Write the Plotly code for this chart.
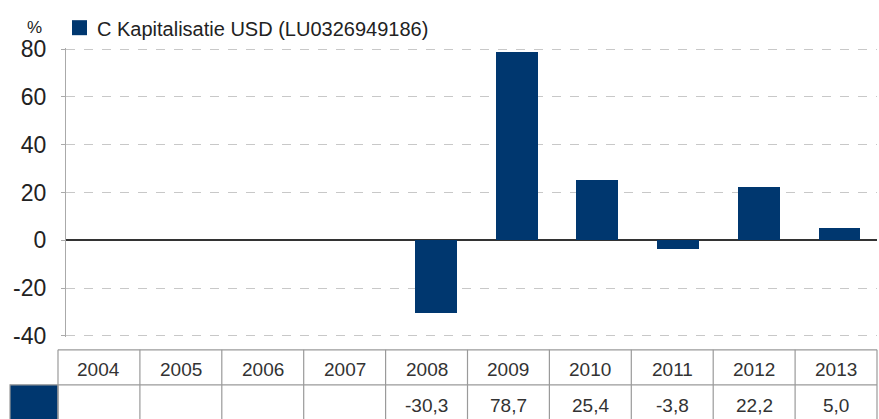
import plotly.graph_objects as go

years = ["2004", "2005", "2006", "2007", "2008", "2009", "2010", "2011", "2012", "2013"]
returns = [None, None, None, None, -30.3, 78.7, 25.4, -3.8, 22.2, 5.0]
series_name = "C Kapitalisatie USD (LU0326949186)"
y_ticks = [-40, -20, 0, 20, 40, 60, 80]
y_tick_text = ["-40", "-20", "0", "20", "40", "60", "80"]
unit_label = "%"

W, H = 879, 419
L, R = 66, 877          # plot area pixel extents
Y0, Y1 = -40.5, 80.5
PPU = (336 - 49.5) / 120.0
T = 49.5 - (Y1 - 80) * PPU
B = 336 + (-40 - Y0) * PPU
BAR_COLOR = "#00376f"
FONT = "Liberation Sans"

def px(x):
    return (x - L) / (R - L)

def py(y):
    return (B - y) / (B - T)

fig = go.Figure()
fig.add_trace(go.Bar(
    x=list(range(len(years))), y=returns, name=series_name,
    marker=dict(color=BAR_COLOR, line=dict(width=0)),
    width=0.52, showlegend=False, hoverinfo="skip",
))

shapes = []
annotations = []

# legend
shapes.append(dict(type="rect", xref="paper", yref="paper",
                   x0=px(72), x1=px(87), y0=py(35.5), y1=py(20.5),
                   fillcolor=BAR_COLOR, line=dict(width=0)))
annotations.append(dict(xref="paper", yref="paper", x=px(95), y=py(29),
                        text=series_name, showarrow=False, xanchor="left", yanchor="middle",
                        font=dict(family=FONT, size=20, color="#222")))
annotations.append(dict(xref="paper", yref="paper", x=px(34), y=py(28),
                        text=unit_label, showarrow=False, xanchor="center", yanchor="middle",
                        font=dict(family=FONT, size=17, color="#222")))

# table
tl, tr = 58, 877
top, mid, bot = 350, 385, 421
ncol = len(years)
cw = (tr - tl) / ncol
border = dict(color="#9a9a9a", width=1.2)
# blue label cell
shapes.append(dict(type="rect", xref="paper", yref="paper",
                   x0=px(10), x1=px(tl), y0=py(bot), y1=py(mid),
                   fillcolor=BAR_COLOR, line=border))
for yy in (top, mid):
    shapes.append(dict(type="line", xref="paper", yref="paper",
                       x0=px(tl), x1=px(tr), y0=py(yy), y1=py(yy), line=border))
for i in range(ncol + 1):
    xx = tl + i * cw
    shapes.append(dict(type="line", xref="paper", yref="paper",
                       x0=px(xx), x1=px(xx), y0=py(top), y1=py(bot), line=border))
for i, (yr, v) in enumerate(zip(years, returns)):
    cx = tl + (i + 0.5) * cw
    annotations.append(dict(xref="paper", yref="paper", x=px(cx), y=py(369.5),
                            text=yr, showarrow=False, xanchor="center", yanchor="middle",
                            font=dict(family=FONT, size=19, color="#333")))
    if v is not None:
        annotations.append(dict(xref="paper", yref="paper", x=px(cx), y=py(406),
                                text=f"{v:.1f}".replace(".", ","), showarrow=False,
                                xanchor="center", yanchor="middle",
                                font=dict(family=FONT, size=19, color="#333")))

fig.update_layout(
    width=W, height=H,
    margin=dict(l=L, r=W - R, t=T, b=H - B, pad=0),
    paper_bgcolor="white", plot_bgcolor="white",
    showlegend=False,
    xaxis=dict(range=[-0.585, 9.465], showticklabels=False, showgrid=False,
               zeroline=False, showline=False, ticks="", fixedrange=True),
    yaxis=dict(range=[Y0, Y1], tickvals=y_ticks, ticktext=y_tick_text,
               tickfont=dict(family=FONT, size=23, color="#222"),
               showgrid=True, gridcolor="#c8c8c8", griddash="dash", gridwidth=1,
               zeroline=True, zerolinecolor="#333333", zerolinewidth=1.5,
               showline=True, linecolor="#aaaaaa", linewidth=1.2,
               ticks="outside", ticklen=4, tickcolor="#aaaaaa",
               ticklabelstandoff=10, fixedrange=True),
    shapes=shapes, annotations=annotations,
    bargap=0,
)

fig.write_html("out.html", config={"displayModeBar": False},
               post_script="document.body.style.margin='0';document.body.style.overflow='hidden';")
